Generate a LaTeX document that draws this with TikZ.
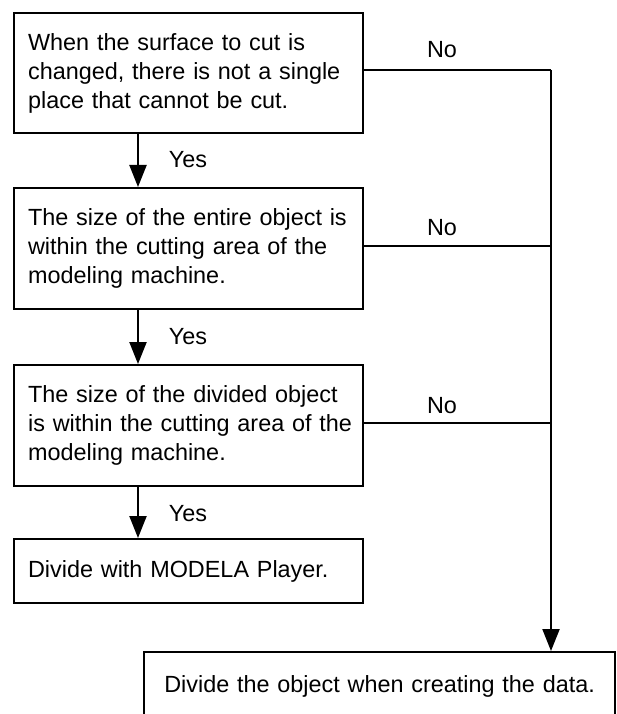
\documentclass[tikz,border=0pt]{standalone}
\usepackage{fontspec}
\setmainfont{Liberation Sans}
\usetikzlibrary{arrows.meta,calc}
\hfuzz=100pt
\tikzset{
  box/.style={draw, line width=2.2pt, rectangle, anchor=north west, inner xsep=14pt, inner ysep=0pt,
    minimum width=349pt, text width=321pt, align=left,
    font={\fontsize{23.4}{29}\selectfont}},
  lbl/.style={inner sep=0pt, font={\fontsize{23.4}{29}\selectfont}},
  conn/.style={line width=2.2pt},
  flow/.style={line width=2.2pt, -{Triangle[length=22pt,width=17pt]}},
}
\begin{document}
\begin{tikzpicture}[x=1pt,y=-1pt]
\useasboundingbox (0,0) rectangle (616,714);
\clip (0,0) rectangle (616,714);
\node[box, minimum height=120pt] (b1) at (13,12) {\mbox{When the surface to cut is}\\\mbox{changed, there is not a single}\\\mbox{place that cannot be cut.}};
\node[box, minimum height=121pt] (b2) at (13,187) {\mbox{The size of the entire object is}\\\mbox{within the cutting area of the}\\\mbox{modeling machine.}};
\node[box, minimum height=121pt] (b3) at (13,364) {\mbox{The size of the divided object}\\\mbox{is within the cutting area of the}\\\mbox{modeling machine.}};
\node[box, minimum height=64pt] (b4) at (13,538) {Divide with MODELA Player.};
\node[box, minimum width=471pt, text width=443pt, align=center, minimum height=68pt] (b5) at (143,651) {Divide the object when creating the data.};

\coordinate (r1) at (551,70);
\coordinate (e1) at (b1.east |- r1);
\coordinate (e2) at ($(b2.east)+(0,-3)$);
\coordinate (e3) at ($(b3.east)+(0,-3)$);
\coordinate (r5) at (r1 |- b5.north);

\draw[conn] (e1) -- (r1);
\draw[flow] (r1) -- (r5);
\draw[conn] (e2) -- (r1 |- e2);
\draw[conn] (e3) -- (r1 |- e3);

\coordinate (a1) at (138,0);
\draw[flow] (a1 |- b1.south) -- (a1 |- b2.north);
\draw[flow] (a1 |- b2.south) -- (a1 |- b3.north);
\draw[flow] (a1 |- b3.south) -- (a1 |- b4.north);

\node[lbl] (n1) at (442,50) {No};
\node[lbl] (n2) at (442,228) {No};
\node[lbl] (n3) at (442,406) {No};
\node[lbl] (y1) at (188,160) {Yes};
\node[lbl] (y2) at (188,337) {Yes};
\node[lbl] (y3) at (188,514) {Yes};
\end{tikzpicture}
\end{document}
